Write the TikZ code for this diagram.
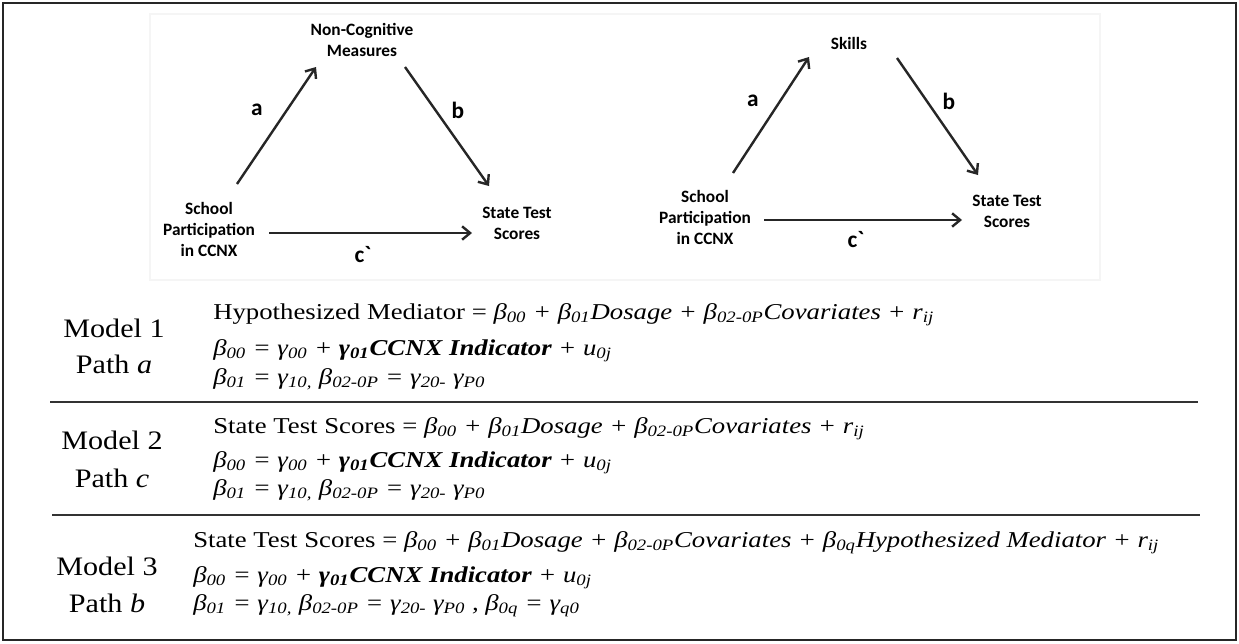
\documentclass[tikz,border=0pt]{standalone}
\usepackage{fontspec}
\setmainfont{Liberation Serif}
\newfontfamily\calb{Carlito}[Ligatures=TeXOff]
\usetikzlibrary{arrows.meta}
\newcommand{\sbs}[1]{\textsubscript{#1}}
\newcommand{\xeq}[1]{\scalebox{1.18}[1]{#1}}
\newcommand{\xml}[1]{\scalebox{1.13}[1]{#1}}
\begin{document}
\begin{tikzpicture}[x=0.75pt,y=-0.75pt,
  lbl/.style={font=\calb\bfseries\fontsize{13}{15.75}\selectfont, align=center, inner sep=0pt},
  plab/.style={font=\calb\bfseries\fontsize{17.5}{19}\selectfont, inner sep=0pt},
  arr/.style={line width=1.8pt, draw=black!85, -{Straight Barb[length=6pt,width=10pt]}},
  mlab/.style={font=\fontsize{20}{24}\selectfont, anchor=base, inner sep=0pt},
  eq/.style={font=\fontsize{17}{20}\selectfont, anchor=base west, inner sep=0pt},
  rulel/.style={line width=2pt, draw=black!80}]
\useasboundingbox (0,0) rectangle (1239,643);
\fill[white] (0,0) rectangle (1239,643);
\draw[line width=1.6pt, draw=black!85] (3,3) rectangle (1236,640);
\draw[draw=black!4, line width=0.8pt] (150,14) rectangle (1100,280);

% ---- left mediation diagram
\node[lbl] (nc) at (362,40) {Non-Cognitive\\Measures};
\node[lbl] (sp) at (209,229) {School\\Participation\\in CCNX};
\node[lbl] (st) at (517,223) {State Test\\Scores};
\coordinate (a1s) at (237,184); \coordinate (a1e) at (316,67);
\coordinate (b1s) at (405,67);  \coordinate (b1e) at (489,186);
\coordinate (c1s) at (269,233); \coordinate (c1e) at (472,233);
\draw[arr] (a1s) -- (a1e);
\draw[arr] (b1s) -- (b1e);
\draw[arr] (c1s) -- (c1e);
\node[plab] (la1) at (257,110) {a};
\node[plab] (lb1) at (458,110) {b};
\node[plab] (lc1) at (363,255) {c`};

% ---- right mediation diagram
\node[lbl] (sk) at (849,43) {Skills};
\node[lbl] (sp2) at (705,217) {School\\Participation\\in CCNX};
\node[lbl] (st2) at (1007,211) {State Test\\Scores};
\coordinate (a2s) at (733,173); \coordinate (a2e) at (809,57);
\coordinate (b2s) at (897,58);  \coordinate (b2e) at (978,175);
\coordinate (c2s) at (764,220); \coordinate (c2e) at (962,220);
\draw[arr] (a2s) -- (a2e);
\draw[arr] (b2s) -- (b2e);
\draw[arr] (c2s) -- (c2e);
\node[plab] (la2) at (753,101) {a};
\node[plab] (lb2) at (949,101) {b};
\node[plab] (lc2) at (856,240) {c`};

% ---- model labels
\node[mlab] (m1) at (114,337) {\xml{Model 1}};
\node[mlab] (p1) at (114,373) {\xml{Path \textit{a}}};
\node[mlab] (m2) at (112,449) {\xml{Model 2}};
\node[mlab] (p2) at (112,487) {\xml{Path \textit{c}}};
\node[mlab] (m3) at (107,575) {\xml{Model 3}};
\node[mlab] (p3) at (107,612) {\xml{Path \textit{b}}};

% ---- equations model 1
\node[eq] (e11) at (213,319) {\xeq{Hypothesized Mediator = \textit{β\sbs{00} + β\sbs{01}Dosage + β\sbs{02-0P}Covariates + r\sbs{ij}}}};
\node[eq] (e12) at (213,355) {\xeq{\textit{β\sbs{00} = γ\sbs{00} + \textbf{γ\sbs{01}CCNX Indicator} + u\sbs{0j}}}};
\node[eq] (e13) at (213,384) {\xeq{\textit{β\sbs{01} = γ\sbs{10,} β\sbs{02-0P} = γ\sbs{20-} γ\sbs{P0}}}};
% ---- equations model 2
\node[eq] (e21) at (213,433) {\xeq{State Test Scores = \textit{β\sbs{00} + β\sbs{01}Dosage + β\sbs{02-0P}Covariates + r\sbs{ij}}}};
\node[eq] (e22) at (213,467) {\xeq{\textit{β\sbs{00} = γ\sbs{00} + \textbf{γ\sbs{01}CCNX Indicator} + u\sbs{0j}}}};
\node[eq] (e23) at (213,495) {\xeq{\textit{β\sbs{01} = γ\sbs{10,} β\sbs{02-0P} = γ\sbs{20-} γ\sbs{P0}}}};
% ---- equations model 3
\node[eq] (e31) at (193,547) {\xeq{State Test Scores = \textit{β\sbs{00} + β\sbs{01}Dosage + β\sbs{02-0P}Covariates + β\sbs{0q}Hypothesized Mediator + r\sbs{ij}}}};
\node[eq] (e32) at (193,582) {\xeq{\textit{β\sbs{00} = γ\sbs{00} + \textbf{γ\sbs{01}CCNX Indicator} + u\sbs{0j}}}};
\node[eq] (e33) at (193,610) {\xeq{\textit{β\sbs{01} = γ\sbs{10,} β\sbs{02-0P} = γ\sbs{20-} γ\sbs{P0} , β\sbs{0q} = γ\sbs{q0}}}};

% ---- rules
\coordinate (r1a) at (50,402); \coordinate (r1b) at (1198,402);
\coordinate (r2a) at (52,515); \coordinate (r2b) at (1200,515);
\draw[rulel] (r1a) -- (r1b);
\draw[rulel] (r2a) -- (r2b);
\end{tikzpicture}
\end{document}
